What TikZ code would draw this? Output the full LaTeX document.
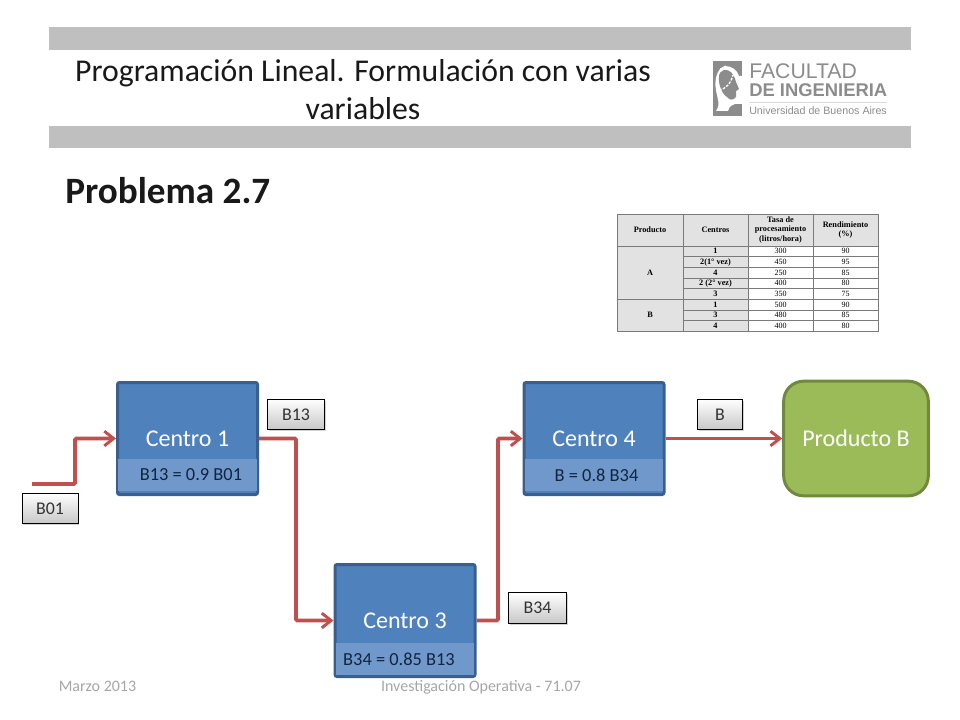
\documentclass[tikz,border=0pt]{standalone}
\usepackage{fontspec}
\usepackage{xcolor}
\setmainfont{Carlito}
\newfontfamily\logofont{Liberation Sans}
\newfontfamily\tablefont{Liberation Serif}
\usetikzlibrary{arrows.meta,shadows}

\definecolor{barGray}{HTML}{BFBFBF}
\definecolor{boxBlue}{HTML}{4F81BD}
\definecolor{boxEdge}{HTML}{3A5F8F}
\definecolor{bandBlue}{HTML}{7098CB}
\definecolor{bandText}{HTML}{10253F}
\definecolor{prodGreen}{HTML}{9BBB59}
\definecolor{prodEdge}{HTML}{71893F}
\definecolor{wireRed}{HTML}{C0504D}
\definecolor{footGray}{HTML}{A6A6A6}
\definecolor{logoGray}{HTML}{8C8C8C}
\definecolor{cellGray}{HTML}{E2E2E2}
\definecolor{rowLine}{HTML}{7A7A7A}

\tikzset{
    centro/.style={rectangle, rounded corners=1.5pt, draw=boxEdge, fill=boxBlue, line width=2.25pt, text=white, font=\fontsize{18}{21}\selectfont, minimum width=105pt, minimum height=84pt, inner sep=0pt},
    band/.style={rectangle, fill=bandBlue, text=bandText, font=\fontsize{13.8}{16}\selectfont, minimum width=104pt, minimum height=24.5pt, inner sep=0pt},
    flowtag/.style={rectangle, draw=black, line width=0.6pt, top color=white, bottom color=black!22, text=black!80, font=\fontsize{13.4}{16}\selectfont, minimum height=23pt, inner sep=0pt, drop shadow={shadow xshift=1pt, shadow yshift=-1pt, opacity=0.35}},
    wire/.style={draw=wireRed, line width=2.9pt, rounded corners=1pt, >={Straight Barb[length=7pt,width=11pt,line width=2.2pt]}},
    cell/.style={rectangle, draw=rowLine, line width=0.4pt, inner sep=0pt, align=center, font=\tablefont\fontsize{6}{6.6}\selectfont},
    boldcell/.style={cell, fill=cellGray, font=\tablefont\bfseries\fontsize{6.2}{7}\selectfont},
    rowcell/.style={minimum width=48.75pt, minimum height=8pt, text height=4pt, text depth=0pt},
    foot/.style={text=footGray, font=\fontsize{12}{14}\selectfont, inner sep=0pt, anchor=base},
    logotext/.style={text=logoGray, inner sep=0pt, anchor=west}
}

\begin{document}
\begin{tikzpicture}[x=0.75pt, y=-0.75pt]
    \useasboundingbox (0,0) rectangle (960,720);

    % header
    \fill[barGray] (49,27) rectangle (911,50);
    \fill[barGray] (49,126) rectangle (911,148);
    \node[align=center, font=\fontsize{23.8}{28.5}\selectfont, text=black!90, inner sep=0pt] (title) at (363,90) {Programación Lineal. Formulación con varias\\variables};
    \node[anchor=west, font=\bfseries\fontsize{27.9}{32}\selectfont, text=black!90, inner sep=0pt] (problema) at (65,191) {Problema 2.7};

    % logo
    \fill[logoGray] (713,61) rectangle (742,116);
    \fill[white] (725,66) .. controls (732,66) and (737,70) .. (739,76) -- (742,76) -- (742,104) -- (735,104) .. controls (730,106) and (728,108) .. (728,111) -- (716,111) .. controls (721,104) and (717,98) .. (716,90) .. controls (714,80) and (717,68) .. (725,66) -- cycle;
    \fill[logoGray] (724,70) .. controls (730,69) and (734,74) .. (736,82) -- (739,89) -- (736,91) -- (736,97) .. controls (733,101) and (729,100) .. (727,97) .. controls (722,94) and (718,84) .. (719,77) .. controls (719,73) and (721,71) .. (724,70) -- cycle;
    \foreach \dx/\dy in {721/69, 725/66.5, 729/68} \fill[white] (\dx,\dy) circle (1.2);
    \draw[white, line width=1pt, dash pattern=on 2pt off 1pt] (719,90) .. controls (726,89) and (731,83) .. (733,75);
    \node[logotext, font=\logofont\fontsize{15.9}{18}\selectfont] (logo1) at (749,71) {FACULTAD};
    \node[logotext, font=\logofont\bfseries\fontsize{13.8}{16}\selectfont] (logo2) at (749,90) {DE INGENIERIA};
    \draw[black!15, line width=0.6pt] (749,102) -- (887,102);
    \node[logotext, font=\logofont\fontsize{8}{10}\selectfont] (logo3) at (749,111) {Universidad de Buenos Aires};

    % tabla
    \foreach \name/\cx/\cw/\txt in {hp/650/49.5/Producto, hc/715.5/48.75/Centros, ht/780.5/48.75/{Tasa de\\procesamiento\\(litros/hora)}, hr/845.5/48.75/{Rendimiento\\(\%)}}
        \node[boldcell, minimum width=\cw pt, minimum height=24pt] (\name) at (\cx,230) {\txt};
    \foreach \i/\cy/\cen/\tasa/\rend in {1/251.3/1/300/90, 2/262/{2(1° vez)}/450/95, 3/272.7/4/250/85, 4/283.3/{2 (2° vez)}/400/80, 5/294/3/350/75, 6/304.7/1/500/90, 7/315.3/3/480/85, 8/326/4/400/80} {
        \node[boldcell, rowcell] (cen\i) at (715.5,\cy) {\cen};
        \node[cell, rowcell, fill=white] (tas\i) at (780.5,\cy) {\tasa};
        \node[cell, rowcell, fill=white] (ren\i) at (845.5,\cy) {\rend};
    }
    \node[boldcell, minimum width=49.5pt, minimum height=40pt] (prodA) at (650,272.7) {A};
    \node[boldcell, minimum width=49.5pt, minimum height=24pt] (prodB) at (650,315.3) {B};

    % centros
    \node[centro] (c1) at (187.5,438.5) {Centro 1};
    \node[centro] (c3) at (405,620.5) {Centro 3};
    \node[centro] (c4) at (594,438.5) {Centro 4};
    \node[band] (b1) at (187.5,475) {\hspace{5.2pt}\raisebox{-1pt}{B13 = 0.9 B01}};
    \node[band] (b3) at (405,659) {\hspace{-9pt}\raisebox{-0.5pt}{B34 = 0.85 B13}};
    \node[band] (b4) at (594,475) {\hspace{3.8pt}\raisebox{-1pt}{B = 0.8 B34}};
    \node[rectangle, rounded corners=15pt, draw=prodEdge, fill=prodGreen, line width=2.25pt, text=white, font=\fontsize{18}{21}\selectfont, minimum width=108.5pt, minimum height=86pt, inner sep=0pt] (prod) at (856,438.5) {Producto B};

    % flujos
    \coordinate (start) at (32,484);
    \coordinate (k1) at (75,484);
    \coordinate (k2) at (296,438.5);
    \coordinate (k3) at (498,620.5);
    \draw[wire, ->] (start) -- (k1) |- (c1);
    \draw[wire, ->] (c1) -- (k2) |- (c3);
    \draw[wire, ->] (c3) -- (k3) |- (c4);
    \draw[wire, ->] (c4) -- (prod);

    \node[flowtag, minimum width=42pt] (t01) at (50,508.5) {B01};
    \node[flowtag, minimum width=43pt] (t13) at (296,414.5) {B13};
    \node[flowtag, minimum width=43pt] (t34) at (537.5,608) {B34};
    \node[flowtag, minimum width=34pt] (tb) at (720,414.5) {B};

    % pie
    \node[foot] (fecha) at (97.5,691) {Marzo 2013};
    \node[foot] (curso) at (481,691) {Investigación Operativa - 71.07};
\end{tikzpicture}
\end{document}
